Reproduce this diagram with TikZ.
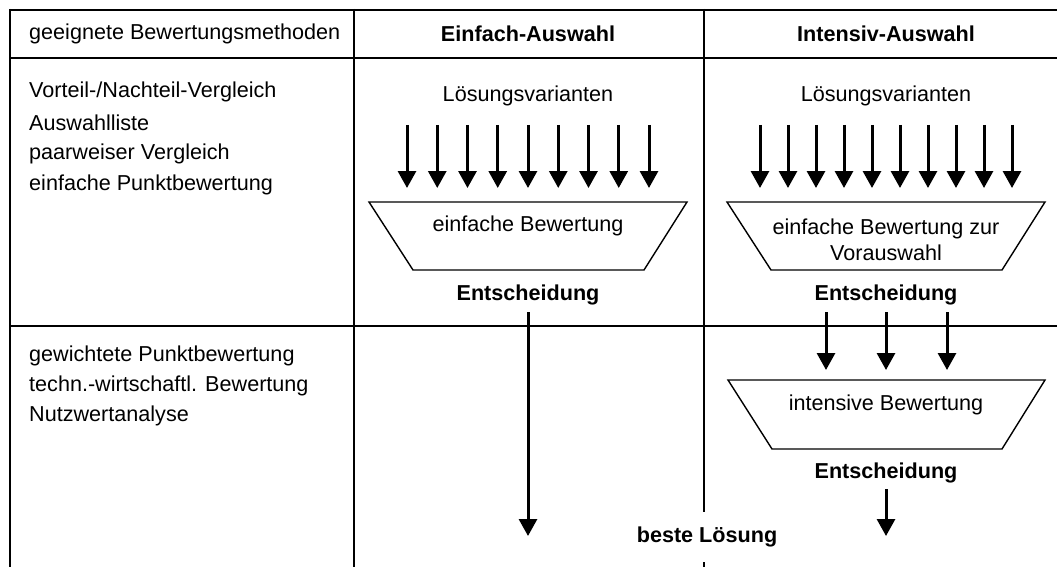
\documentclass[tikz,border=0pt]{standalone}
\usepackage{fontspec}
\setmainfont{Liberation Sans}
\usetikzlibrary{arrows.meta}
\begin{document}
\begin{tikzpicture}[x=1pt,y=-1pt,
  txt/.style={inner sep=0pt, font=\fontsize{21.6}{26}\selectfont},
  btxt/.style={inner sep=0pt, font=\fontsize{21.6}{26}\selectfont\bfseries},
  ltxt/.style={txt, anchor=west},
  grid/.style={line width=2pt},
  trap/.style={line width=1.4pt},
  arr/.style={line width=3pt, -{Triangle[width=18pt,length=17pt]}}]
\useasboundingbox (0,0) rectangle (1057,567);
% table lines
\draw[grid] (9.5,10) -- (1057,10);
\draw[grid] (9.5,58) -- (1057,58);
\draw[grid] (9.5,326) -- (1057,326);
\draw[grid] (9.5,9) -- (9.5,567);
\draw[grid] (354,9) -- (354,567);
\draw[grid] (704,9) -- (704,512);
\draw[grid] (704,562) -- (704,567);
% header
\node[ltxt] (h1) at (29,34) {geeignete Bewertungsmethoden};
\node[btxt] (h2) at (528,34) {Einfach-Auswahl};
\node[btxt] (h3) at (886,34) {Intensiv-Auswahl};
% left column
\node[ltxt] (m1) at (29,92) {Vorteil-/Nachteil-Vergleich};
\node[ltxt] (m2) at (29,123) {Auswahlliste};
\node[ltxt] (m3) at (29,154) {paarweiser Vergleich};
\node[ltxt] (m4) at (29,185) {einfache Punktbewertung};
\node[ltxt] (m5) at (29,356) {gewichtete Punktbewertung};
\node[ltxt] (m6) at (29,386) {techn.-wirtschaftl. Bewertung};
\node[ltxt] (m7) at (29,416) {Nutzwertanalyse};
% Einfach column
\node[txt] (lv1) at (528,96) {Lösungsvarianten};
\foreach \i in {0,...,8}{
  \coordinate (a\i s) at (407+30.25*\i,125);
  \coordinate (a\i e) at (407+30.25*\i,188);
  \draw[arr] (a\i s) -- (a\i e);
}
\draw[trap] (369,202) -- (687,202) -- (644,270) -- (413,270) -- cycle;
\node[txt] (eb1) at (528,226) {einfache Bewertung};
\node[btxt] (en1) at (528,295) {Entscheidung};
\coordinate (l1s) at (528,312);
\coordinate (l1e) at (528,536);
\draw[arr] (l1s) -- (l1e);
% Intensiv column
\node[txt] (lv2) at (886,96) {Lösungsvarianten};
\foreach \i in {0,...,9}{
  \coordinate (b\i s) at (760+28*\i,125);
  \coordinate (b\i e) at (760+28*\i,188);
  \draw[arr] (b\i s) -- (b\i e);
}
\draw[trap] (727,202) -- (1045,202) -- (1002,270) -- (771,270) -- cycle;
\node[txt, align=center] (eb2) at (886,240) {einfache Bewertung zur\\Vorauswahl};
\node[btxt] (en2) at (886,295) {Entscheidung};
\foreach \i/\x in {0/826,1/886,2/947}{
  \coordinate (c\i s) at (\x,312);
  \coordinate (c\i e) at (\x,370);
  \draw[arr] (c\i s) -- (c\i e);
}
\draw[trap] (728,380) -- (1045,380) -- (1002,449) -- (772,449) -- cycle;
\node[txt] (ib) at (886,405) {intensive Bewertung};
\node[btxt] (en3) at (886,473) {Entscheidung};
\coordinate (r1s) at (886,489);
\coordinate (r1e) at (886,536);
\draw[arr] (r1s) -- (r1e);
\node[btxt] (best) at (707,537) {beste Lösung};
\end{tikzpicture}
\end{document}
